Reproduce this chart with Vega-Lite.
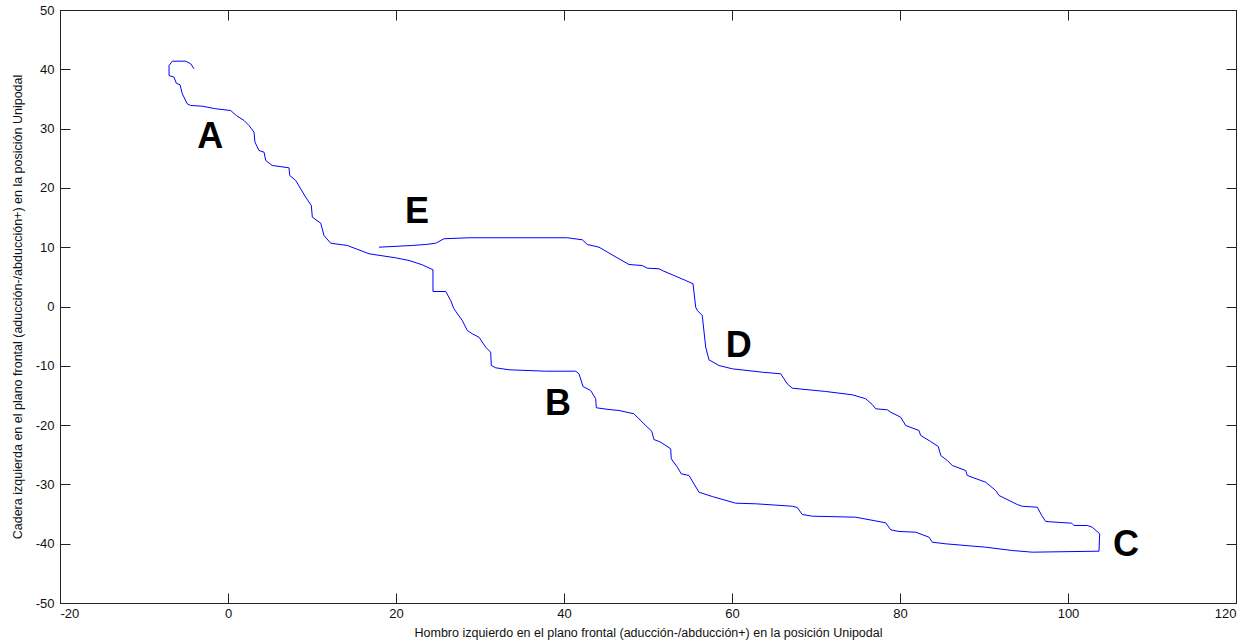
{
  "$schema": "https://vega.github.io/schema/vega-lite/v6.json",
  "width": 1176,
  "height": 593,
  "autosize": {"type": "none"},
  "padding": {"left": 60, "top": 10, "right": 20, "bottom": 40},
  "background": "white",
  "config": {
    "view": {"stroke": "#222222", "strokeWidth": 1},
    "axis": {
      "grid": false,
      "domain": false,
      "tickColor": "#222222",
      "tickSize": -10,
      "tickWidth": 1,
      "labelFont": "Liberation Sans",
      "labelFontSize": 13,
      "labelColor": "#111111",
      "labelExpr": "'' + datum.value",
      "titleFont": "Liberation Sans",
      "titleFontSize": 12.5,
      "titleFontWeight": "normal",
      "titleColor": "#111111"
    }
  },
  "datasets": {
    "path": [
      {"i":1,"x":-4.05,"y":40.08},{"i":2,"x":-4.44,"y":40.93},{"i":3,"x":-5.04,"y":41.37},{"i":4,"x":-6.63,"y":41.37},
      {"i":5,"x":-7.02,"y":40.64},{"i":6,"x":-7.02,"y":38.95},{"i":7,"x":-6.43,"y":38.67},{"i":8,"x":-6.15,"y":37.66},
      {"i":9,"x":-5.71,"y":37.39},{"i":10,"x":-5.44,"y":35.87},{"i":11,"x":-4.85,"y":34.18},{"i":12,"x":-4.44,"y":33.9},
      {"i":13,"x":-3.06,"y":33.78},{"i":14,"x":-1.46,"y":33.34},{"i":15,"x":0.32,"y":33.05},{"i":16,"x":0.99,"y":32.21},
      {"i":17,"x":1.9,"y":31.37},{"i":18,"x":2.5,"y":30.52},{"i":19,"x":3.1,"y":29.39},{"i":20,"x":3.21,"y":27.71},
      {"i":21,"x":3.69,"y":26.31},{"i":22,"x":4.29,"y":26.02},{"i":23,"x":4.49,"y":24.62},{"i":24,"x":5.27,"y":23.78},
      {"i":25,"x":7.26,"y":23.39},{"i":26,"x":7.35,"y":22.09},{"i":27,"x":8.06,"y":21.25},{"i":28,"x":9.25,"y":18.43},
      {"i":29,"x":9.92,"y":17.03},{"i":30,"x":10.04,"y":15.06},{"i":31,"x":11.04,"y":14.05},{"i":32,"x":11.43,"y":11.97},
      {"i":33,"x":12.23,"y":10.67},{"i":34,"x":14.2,"y":10.29},{"i":35,"x":16.79,"y":8.89},{"i":36,"x":19.96,"y":8.21},
      {"i":37,"x":21.55,"y":7.76},{"i":38,"x":23.13,"y":7.03},{"i":39,"x":24.4,"y":6.19},{"i":40,"x":24.4,"y":2.53},
      {"i":41,"x":25.92,"y":2.53},{"i":42,"x":26.51,"y":1.01},{"i":43,"x":26.9,"y":-0.39},{"i":44,"x":27.89,"y":-2.36},
      {"i":45,"x":28.49,"y":-4.05},{"i":46,"x":29.08,"y":-4.6},{"i":47,"x":29.88,"y":-5.18},{"i":48,"x":30.68,"y":-6.86},
      {"i":49,"x":31.27,"y":-7.71},{"i":50,"x":31.35,"y":-9.95},{"i":51,"x":31.87,"y":-10.34},{"i":52,"x":33.45,"y":-10.67},
      {"i":53,"x":37.82,"y":-10.91},{"i":54,"x":41.39,"y":-10.91},{"i":55,"x":41.79,"y":-11.35},{"i":56,"x":42.26,"y":-13.49},
      {"i":57,"x":43.18,"y":-14.17},{"i":58,"x":43.77,"y":-15.56},{"i":59,"x":43.85,"y":-17.08},{"i":60,"x":45.36,"y":-17.37},
      {"i":61,"x":46.55,"y":-17.54},{"i":62,"x":48.33,"y":-18.09},{"i":63,"x":48.93,"y":-18.94},{"i":64,"x":49.73,"y":-20.07},
      {"i":65,"x":50.44,"y":-21.03},{"i":66,"x":50.71,"y":-22.43},{"i":67,"x":51.51,"y":-22.88},{"i":68,"x":52.7,"y":-24.0},
      {"i":69,"x":52.77,"y":-25.68},{"i":70,"x":53.49,"y":-27.1},{"i":71,"x":53.96,"y":-28.21},{"i":72,"x":54.88,"y":-28.5},
      {"i":73,"x":56.07,"y":-31.32},{"i":74,"x":57.65,"y":-32.04},{"i":75,"x":60.44,"y":-33.17},{"i":76,"x":62.82,"y":-33.27},
      {"i":77,"x":67.18,"y":-33.68},{"i":78,"x":67.77,"y":-33.9},{"i":79,"x":68.37,"y":-35.08},{"i":80,"x":69.56,"y":-35.36},
      {"i":81,"x":74.73,"y":-35.53},{"i":82,"x":78.3,"y":-36.48},{"i":83,"x":78.89,"y":-37.66},{"i":84,"x":79.88,"y":-37.94},
      {"i":85,"x":81.87,"y":-38.06},{"i":86,"x":83.45,"y":-38.9},{"i":87,"x":83.85,"y":-39.75},{"i":88,"x":85.44,"y":-40.02},
      {"i":89,"x":90.2,"y":-40.59},{"i":90,"x":93.37,"y":-41.15},{"i":91,"x":95.75,"y":-41.43},{"i":92,"x":103.69,"y":-41.26},
      {"i":93,"x":103.77,"y":-38.33},{"i":94,"x":102.89,"y":-37.22},{"i":95,"x":102.3,"y":-36.93},{"i":96,"x":100.71,"y":-36.93},
      {"i":97,"x":100.44,"y":-36.54},{"i":98,"x":97.35,"y":-36.26},{"i":99,"x":96.87,"y":-35.24},{"i":100,"x":96.35,"y":-33.85},
      {"i":101,"x":94.56,"y":-33.68},{"i":102,"x":93.96,"y":-33.39},{"i":103,"x":91.79,"y":-31.87},{"i":104,"x":91.39,"y":-31.03},
      {"i":105,"x":90.2,"y":-29.63},{"i":106,"x":88.01,"y":-28.5},{"i":107,"x":87.82,"y":-27.66},{"i":108,"x":86.23,"y":-26.81},
      {"i":109,"x":85.63,"y":-25.97},{"i":110,"x":84.85,"y":-25.13},{"i":111,"x":84.56,"y":-23.61},{"i":112,"x":83.65,"y":-22.77},
      {"i":113,"x":82.46,"y":-21.75},{"i":114,"x":82.26,"y":-20.91},{"i":115,"x":80.68,"y":-20.07},{"i":116,"x":80.08,"y":-18.67},
      {"i":117,"x":78.89,"y":-17.82},{"i":118,"x":78.49,"y":-17.42},{"i":119,"x":77.11,"y":-17.25},{"i":120,"x":76.7,"y":-16.53},
      {"i":121,"x":75.92,"y":-15.56},{"i":122,"x":74.32,"y":-14.89},{"i":123,"x":71.15,"y":-14.33},{"i":124,"x":67.18,"y":-13.78},
      {"i":125,"x":66.58,"y":-13.04},{"i":126,"x":65.8,"y":-11.35},{"i":127,"x":63.61,"y":-11.08},{"i":128,"x":60.04,"y":-10.51},
      {"i":129,"x":58.45,"y":-9.95},{"i":130,"x":57.26,"y":-8.99},{"i":131,"x":56.87,"y":-6.86},{"i":132,"x":56.46,"y":-1.52},
      {"i":133,"x":55.87,"y":-0.67},{"i":134,"x":55.68,"y":-0.12},{"i":135,"x":55.36,"y":3.83},{"i":136,"x":54.49,"y":4.38},
      {"i":137,"x":51.7,"y":6.07},{"i":138,"x":51.31,"y":6.36},{"i":139,"x":49.92,"y":6.46},{"i":140,"x":49.32,"y":6.91},
      {"i":141,"x":47.74,"y":7.08},{"i":142,"x":46.55,"y":8.04},{"i":143,"x":44.17,"y":10.0},{"i":144,"x":42.77,"y":10.46},
      {"i":145,"x":42.18,"y":11.25},{"i":146,"x":40.39,"y":11.59},{"i":147,"x":28.69,"y":11.59},{"i":148,"x":25.71,"y":11.42},
      {"i":149,"x":24.73,"y":10.67},{"i":150,"x":23.54,"y":10.46},{"i":151,"x":21.94,"y":10.29},{"i":152,"x":17.98,"y":10.0}
    ],
    "labels": [
      {"t":"A","x":-2.1,"y":28.5},
      {"t":"E","x":22.5,"y":15.9},
      {"t":"D","x":60.8,"y":-6.6},
      {"t":"B","x":39.3,"y":-16.4},
      {"t":"C","x":106.9,"y":-40.3}
    ]
  },
  "layer": [
    {
      "data": {"name": "path"},
      "mark": {"type": "line", "color": "#0000ff", "strokeWidth": 1, "clip": true},
      "encoding": {
        "x": {"field": "x", "type": "quantitative", "scale": {"domain": [-20, 120], "nice": false, "zero": false},
              "axis": {"values": [-20,0,20,40,60,80,100,120], "labelPadding": 14, "title": "Hombro izquierdo en el plano frontal (aducción-/abducción+) en la posición Unipodal", "titlePadding": 6}},
        "y": {"field": "y", "type": "quantitative", "scale": {"domain": [-50, 50], "nice": false, "zero": false},
              "axis": {"values": [-50,-40,-30,-20,-10,0,10,20,30,40,50], "labelPadding": 16, "title": "Cadera izquierda en el plano frontal (aducción-/abducción+) en la posición Unipodal", "titlePadding": 11}},
        "order": {"field": "i", "type": "quantitative"}
      }
    },
    {
      "data": {"name": "labels"},
      "mark": {"type": "text", "font": "Liberation Sans", "fontSize": 36, "fontWeight": "bold", "color": "black", "align": "center", "baseline": "middle"},
      "encoding": {
        "x": {"field": "x", "type": "quantitative", "axis": {"orient": "top", "values": [-20,0,20,40,60,80,100,120], "labels": false, "title": null}},
        "y": {"field": "y", "type": "quantitative", "axis": {"orient": "right", "values": [-50,-40,-30,-20,-10,0,10,20,30,40,50], "labels": false, "title": null}},
        "text": {"field": "t", "type": "nominal"}
      }
    }
  ],
  "resolve": {"axis": {"x": "independent", "y": "independent"}}
}
